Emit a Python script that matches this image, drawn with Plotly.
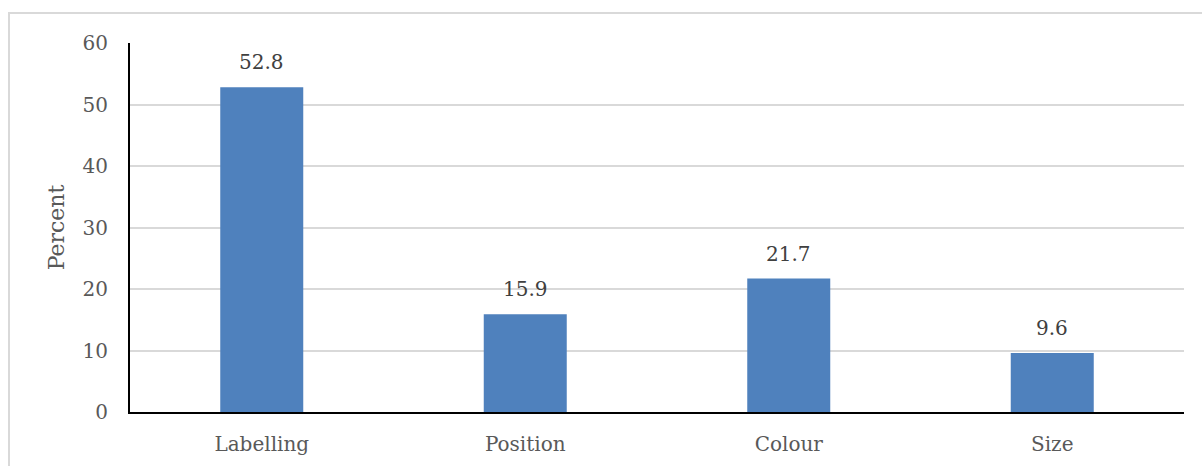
import plotly.graph_objects as go

categories = ["Labelling", "Position", "Colour", "Size"]
values = [52.8, 15.9, 21.7, 9.6]
y_ticks = [0, 10, 20, 30, 40, 50, 60]

FONT = "DejaVu Serif"
W, H = 1202, 466
L, R, T, B = 130, 18, 43, 54
pw = W - L - R
ph = H - T - B

fig = go.Figure()
fig.add_trace(go.Bar(
    x=categories, y=values,
    marker=dict(color="#4f81bd", line=dict(width=0)),
    width=0.315,
    hoverinfo="x+y",
))

for c, v in zip(categories, values):
    fig.add_annotation(
        x=c, y=v, text=f"{v}", showarrow=False,
        yanchor="bottom", yshift=11,
        font=dict(family=FONT, size=20, color="#404040"),
    )

# outer chart border (light gray frame)
fig.add_shape(
    type="rect", xref="paper", yref="paper",
    x0=(9 - L) / pw, x1=(W + 5 - L) / pw,
    y0=-(H + 5 - (T + ph)) / ph, y1=((T + ph) - 13) / ph,
    line=dict(color="#d9d9d9", width=2), fillcolor="rgba(0,0,0,0)",
    layer="below",
)

fig.update_layout(
    width=W, height=H,
    margin=dict(l=L, r=R, t=T, b=B),
    paper_bgcolor="white", plot_bgcolor="white",
    showlegend=False,
    font=dict(family=FONT, color="#595959", size=20),
    xaxis=dict(
        showline=True, linecolor="black", linewidth=2,
        showgrid=False, ticks="", ticklabelstandoff=13, automargin=False,
        tickfont=dict(family=FONT, size=20, color="#595959"),
    ),
    yaxis=dict(
        range=[0, 60], tickvals=y_ticks,
        showline=True, linecolor="black", linewidth=2,
        showgrid=True, gridcolor="#d9d9d9", gridwidth=2,
        zeroline=False, ticks="", ticklabelstandoff=16, automargin=False,
        tickfont=dict(family=FONT, size=20, color="#595959"),
        title=dict(text="Percent", standoff=12,
                   font=dict(family=FONT, size=22, color="#595959")),
    ),
)

fig.write_html("out.html")
